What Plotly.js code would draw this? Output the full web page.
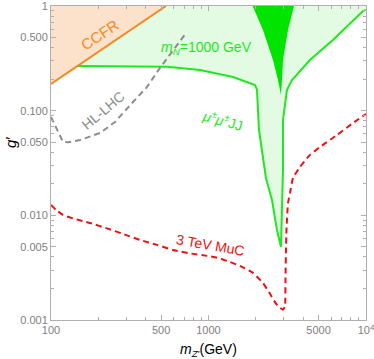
<!DOCTYPE html>
<html>
<head>
<meta charset="utf-8">
<script src="https://cdn.plot.ly/plotly-3.0.1.min.js"></script>
<style>
  html, body { margin: 0; padding: 0; background: #fff; }
  #chart { width: 374px; height: 359px; }
</style>
</head>
<body>
<div id="chart"></div>
<script>
// CCFR exclusion (line from lower-left to top)
const ccfrX = [100, 537];
const ccfrY = [0.18, 1];

// green mu+- mu+- JJ contour, m_N = 1000 GeV
const greenLineX = [148.4, 274, 545, 883, 1430, 1974, 2032, 2092, 2218, 2317, 2530, 2722, 2886, 2929, 2972, 2972, 3016, 3150, 3390, 4410, 6170, 9570, 10000];
const greenLineY = [0.267, 0.264, 0.263, 0.245, 0.210, 0.176, 0.1576, 0.0654, 0.0338, 0.02276, 0.01403, 0.00725, 0.00499, 0.01403, 0.0271, 0.0815, 0.0951, 0.1576, 0.196, 0.305, 0.473, 0.896, 0.916];

// dark green spike near the resonance
const spikeX = [1908, 2218, 2568, 2763, 2886, 2929, 2972, 3198, 3490];
const spikeY = [1, 0.590, 0.305, 0.196, 0.1413, 0.196, 0.305, 0.590, 1];

// HL-LHC projection (gray dashed)
const hlX = [100, 109.2, 119.2, 128.2, 152.8, 204.8, 254.9, 331.6, 407, 492, 595, 720];
const hlY = [0.0871, 0.0654, 0.0502, 0.0499, 0.0525, 0.0612, 0.078, 0.121, 0.1684, 0.256, 0.380, 0.552];

// 3 TeV muon collider (red dashed)
const mucX = [100, 107.6, 119.2, 138, 177, 226.8, 286.5, 367.3, 471, 595, 763, 978, 1132, 1311, 1585, 1917, 2218, 2458, 2683, 2844, 2972, 3060, 3082, 3105, 3127, 3198, 3293, 3440, 3811, 4410, 5105, 6545, 8270, 10000];
const mucY = [0.01257, 0.01126, 0.01009, 0.00934, 0.00846, 0.0075, 0.00665, 0.00582, 0.00522, 0.00467, 0.00433, 0.0041, 0.00394, 0.00367, 0.00329, 0.00282, 0.00226, 0.00178, 0.00143, 0.00131, 0.00125, 0.00136, 0.00242, 0.00467, 0.00725, 0.01313, 0.01637, 0.02276, 0.029, 0.0378, 0.045, 0.0586, 0.0763, 0.093];

const xTickVals = [100, 500, 1000, 5000, 10000];
const xTickText = ['100', '500', '1000', '5000', '10<sup>4</sup>'];
const yTickVals = [0.001, 0.005, 0.01, 0.05, 0.1, 0.5, 1];
const yTickText = ['0.001', '0.005', '0.010', '0.050', '0.100', '0.500', '1'];

const xMinor = [200, 300, 400, 600, 700, 800, 900, 2000, 3000, 4000, 6000, 7000, 8000, 9000];
const yMinor = [0.002, 0.003, 0.004, 0.006, 0.007, 0.008, 0.009, 0.02, 0.03, 0.04, 0.06, 0.07, 0.08, 0.09, 0.2, 0.3, 0.4, 0.6, 0.7, 0.8, 0.9];

const GREEN = '#1ee81e';
const GRAY_TXT = '#808080';

const traces = [
  // peach region above CCFR
  { x: [ccfrX[0], ccfrX[1], ccfrX[0]], y: [ccfrY[0], ccfrY[1], ccfrY[1]], fill: 'toself', mode: 'none',
    fillcolor: '#fde2cb', hoverinfo: 'skip' },
  // light green region
  { x: greenLineX.concat([10000, ccfrX[1]]), y: greenLineY.concat([1, 1]), fill: 'toself', mode: 'none',
    fillcolor: '#e2fbe2', hoverinfo: 'skip' },
  // dark green spike
  { x: spikeX, y: spikeY, fill: 'toself', mode: 'none', fillcolor: '#00e400', hoverinfo: 'skip' },
  { x: greenLineX, y: greenLineY, mode: 'lines', line: { color: GREEN, width: 2 } },
  { x: ccfrX, y: ccfrY, mode: 'lines', line: { color: '#f7871f', width: 2 } },
  { x: hlX, y: hlY, mode: 'lines', line: { color: '#8c8c8c', width: 2, dash: '6px,4px' } },
  { x: mucX, y: mucY, mode: 'lines', line: { color: '#f01010', width: 2, dash: '6px,4px', shape: 'spline', smoothing: 0.4 } }
];

const axisBase = {
  type: 'log', showgrid: false, zeroline: false, showline: true, linecolor: '#b0b0b0', linewidth: 1,
  mirror: 'allticks', ticks: 'inside', ticklen: 5, tickcolor: '#b0b0b0',
  tickfont: { family: 'Liberation Sans, Arial, sans-serif', size: 11, color: GRAY_TXT },
  tickmode: 'array', ticklabeloverflow: 'allow'
};

function label(x, y, text, size, color, angle) {
  return { xref: 'paper', yref: 'paper', x: x, y: y, xanchor: 'center', yanchor: 'middle',
    text: text, showarrow: false, textangle: angle || 0, font: { size: size, color: color } };
}

const layout = {
  width: 374, height: 359,
  margin: { l: 51, r: 8, t: 6, b: 39 },
  paper_bgcolor: '#fff', plot_bgcolor: '#fff',
  showlegend: false,
  font: { family: 'Liberation Sans, Arial, sans-serif' },
  xaxis: { ...axisBase, range: [2, 4.0002], tickvals: xTickVals, ticktext: xTickText,
    minor: { tickmode: 'array', tickvals: xMinor, ticks: 'inside', ticklen: 3, tickcolor: '#b0b0b0', showgrid: false } },
  yaxis: { ...axisBase, range: [-3, 0.0002], tickvals: yTickVals, ticktext: yTickText,
    minor: { tickmode: 'array', tickvals: yMinor, ticks: 'inside', ticklen: 3, tickcolor: '#b0b0b0', showgrid: false } },
  annotations: [
    label(0.156, 0.908, 'CCFR', 15, '#f7871f', -34),
    label(0.495, 0.866, '<i>m</i><sub><i>N</i></sub>=1000 GeV', 14, GREEN),
    label(0.545, 0.637, '<i>μ</i><sup>±</sup><i>μ</i><sup>±</sup>JJ', 14, GREEN, 15),
    label(0.168, 0.668, 'HL-LHC', 14, '#8c8c8c', -40),
    label(0.505, 0.24, '3 TeV MuC', 14, '#f01010', 10),
    label(-0.127, 0.567, '<i>g</i>′', 15, '#000', -90),
    label(0.5, -0.095, '<i>m</i><sub><i>Z</i>′</sub>(GeV)', 14, '#000')
  ]
};

Plotly.newPlot('chart', traces, layout, { staticPlot: true, displayModeBar: false });
</script>
</body>
</html>
